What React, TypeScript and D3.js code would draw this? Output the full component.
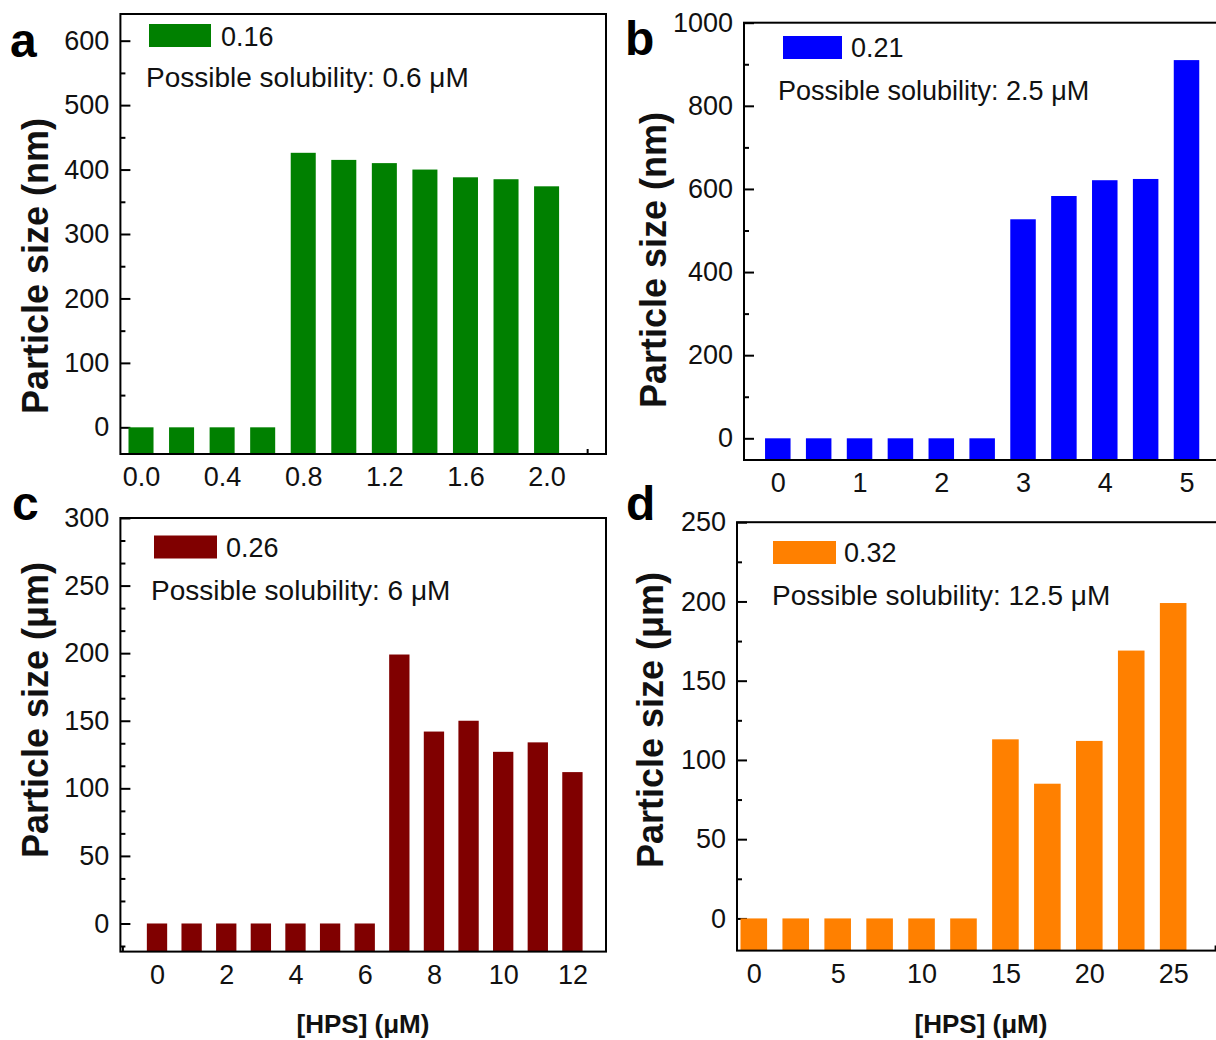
import React, { useEffect, useRef } from "react";
import * as d3 from "d3";

// [HPS] (µM) and particle size
const hpsA = [0, 0.2, 0.4, 0.6, 0.8, 1.0, 1.2, 1.4, 1.6, 1.8, 2.0];
const sizeA = [0, 0, 0, 0, 426, 415, 410, 400, 388, 385, 374];
const hpsB = [0, 0.5, 1, 1.5, 2, 2.5, 3, 3.5, 4, 4.5, 5];
const sizeB = [0, 0, 0, 0, 0, 0, 527, 583, 621, 624, 910];
const hpsC = [0, 1, 2, 3, 4, 5, 6, 7, 8, 9, 10, 11, 12];
const sizeC = [0, 0, 0, 0, 0, 0, 0, 199, 142, 150, 127, 134, 112];
const hpsD = [0, 2.5, 5, 7.5, 10, 12.5, 15, 17.5, 20, 22.5, 25];
const sizeD = [0, 0, 0, 0, 0, 0, 113, 85, 112, 169, 199];

const xTicksA = [0, 0.4, 0.8, 1.2, 1.6, 2.0];
const xTicksB = [0, 1, 2, 3, 4, 5];
const xTicksC = [0, 2, 4, 6, 8, 10, 12];
const xTicksD = [0, 5, 10, 15, 20, 25];
const yTicksA = [0, 100, 200, 300, 400, 500, 600];
const yTicksB = [0, 200, 400, 600, 800, 1000];
const yTicksC = [0, 50, 100, 150, 200, 250, 300];
const yTicksD = [0, 50, 100, 150, 200, 250];

const letters = ["a", "b", "c", "d"];
const legendLabels = ["0.16", "0.21", "0.26", "0.32"];
const solubility = ["0.6", "2.5", "6", "12.5"];
const yTitles = ["Particle size (nm)", "Particle size (nm)", "Particle size (\u03bcm)", "Particle size (\u03bcm)"];
const xTitle = "[HPS] (\u03bcM)";
const colors = ["#008000", "#0000ff", "#800000", "#ff8000"];

const FONT = "'Liberation Sans', Arial, sans-serif";

// layout of each panel in page pixels
const panels = [
  {
    hps: hpsA, size: sizeA, xTicks: xTicksA, yTicks: yTicksA, xFmt: d3.format(".1f"),
    xMinor: 0.2, xEvery: 2, yMinor: 50, yEvery: 2,
    left: 120.4, right: 606, top: 14, bottom: 454,
    xDom: [-0.1016, 2.293], yDom: [-41.4, 641.4], barFrac: 0.617,
    letterX: 10, letterY: 57,
    leg: { x: 149, y: 24, w: 62, h: 23, tx: 221, ty: 46, nx: 146, ny: 87, ns: 28 },
    yt: { x: 48, y: 266 }, xt: null,
  },
  {
    hps: hpsB, size: sizeB, xTicks: xTicksB, yTicks: yTicksB, xFmt: d3.format("d"),
    xMinor: 0.5, xEvery: 2, yMinor: 100, yEvery: 2,
    left: 744, right: 1230, top: 22.7, bottom: 460,
    xDom: [-0.4135, 5.532], yDom: [-52.2, 1000], barFrac: 0.624,
    letterX: 625, letterY: 55,
    leg: { x: 783, y: 36, w: 59, h: 23, tx: 851, ty: 57, nx: 778, ny: 100, ns: 27 },
    yt: { x: 666, y: 260 }, xt: null,
  },
  {
    hps: hpsC, size: sizeC, xTicks: xTicksC, yTicks: yTicksC, xFmt: d3.format("d"),
    xMinor: 1, xEvery: 2, yMinor: 50 / 3, yEvery: 3,
    left: 120.4, right: 606, top: 518, bottom: 951.6,
    xDom: [-1.0575, 12.97], yDom: [-20.8, 300], barFrac: 0.587,
    letterX: 12, letterY: 520,
    leg: { x: 154, y: 535.5, w: 63, h: 23, tx: 226, ty: 557, nx: 151, ny: 600, ns: 28 },
    yt: { x: 48, y: 710 }, xt: { x: 363, y: 1033 },
  },
  {
    hps: hpsD, size: sizeD, xTicks: xTicksD, yTicks: yTicksD, xFmt: d3.format("d"),
    xMinor: 2.5, xEvery: 2, yMinor: 25, yEvery: 2,
    left: 737, right: 1225, top: 522.2, bottom: 950.6,
    xDom: [-1.0014, 28.09], yDom: [-20.3, 250], barFrac: 0.634,
    letterX: 626, letterY: 520,
    leg: { x: 773, y: 541, w: 63, h: 23, tx: 844, ty: 562, nx: 772, ny: 605, ns: 28 },
    yt: { x: 663, y: 720 }, xt: { x: 981, y: 1033 },
  },
];

const minorTicks = (dom: number[], step: number, every: number) =>
  d3.range(Math.ceil(dom[0] / step - 1e-9), Math.floor(dom[1] / step + 1e-9) + 1)
    .filter((k) => k % every !== 0)
    .map((k) => k * step);

function styleAxis(sel: any) {
  sel.select(".domain").remove();
  sel.selectAll(".tick line").attr("stroke", "#000").attr("stroke-width", 2);
  sel.selectAll(".tick text").attr("fill", "#111").attr("font-size", 27).attr("font-family", FONT);
}

function drawPanel(svg: any, p: any, i: number) {
  const x = d3.scaleLinear().domain(p.xDom).range([p.left, p.right]);
  const y = d3.scaleLinear().domain(p.yDom).range([p.bottom, p.top]);
  const g = svg.append("g");

  g.append("g").attr("transform", `translate(${p.left},0)`)
    .call(d3.axisLeft(y).tickValues(minorTicks(p.yDom, p.yMinor, p.yEvery)).tickSize(-5).tickFormat(() => ""))
    .call(styleAxis);
  g.append("g").attr("transform", `translate(${p.left},0)`)
    .call(d3.axisLeft(y).tickValues(p.yTicks).tickSize(-10).tickPadding(11).tickFormat(d3.format("d")))
    .call(styleAxis);
  g.append("g").attr("transform", `translate(0,${p.bottom})`)
    .call(d3.axisBottom(x).tickValues(minorTicks(p.xDom, p.xMinor, p.xEvery)).tickSize(-5).tickFormat(() => ""))
    .call(styleAxis);
  g.append("g").attr("transform", `translate(0,${p.bottom})`)
    .call(d3.axisBottom(x).tickValues(p.xTicks).tickSize(-10).tickPadding(13).tickFormat(p.xFmt))
    .call(styleAxis);

  const bw = p.barFrac * (x(p.hps[1]) - x(p.hps[0]));
  g.selectAll("rect.bar")
    .data(p.hps.map((h: number, k: number) => ({ h, v: p.size[k] })))
    .join("rect")
    .attr("class", "bar")
    .attr("x", (d: any) => x(d.h) - bw / 2)
    .attr("y", (d: any) => y(d.v))
    .attr("width", bw)
    .attr("height", (d: any) => p.bottom - y(d.v))
    .attr("fill", colors[i]);

  g.append("rect")
    .attr("x", p.left).attr("y", p.top)
    .attr("width", p.right - p.left).attr("height", p.bottom - p.top)
    .attr("fill", "none").attr("stroke", "#000").attr("stroke-width", 2);

  // legend + note
  const L = p.leg;
  g.append("rect").attr("x", L.x).attr("y", L.y).attr("width", L.w).attr("height", L.h).attr("fill", colors[i]);
  g.append("text").attr("x", L.tx).attr("y", L.ty).attr("font-size", 27).attr("font-family", FONT)
    .attr("fill", "#111").text(legendLabels[i]);
  g.append("text").attr("x", L.nx).attr("y", L.ny).attr("font-size", L.ns).attr("font-family", FONT)
    .attr("fill", "#111").text(`Possible solubility: ${solubility[i]} \u03bcM`);

  // titles
  g.append("text")
    .attr("transform", `translate(${p.yt.x},${p.yt.y}) rotate(-90)`)
    .attr("text-anchor", "middle").attr("font-size", 36).attr("font-weight", "bold")
    .attr("font-family", FONT).attr("fill", "#111").text(yTitles[i]);
  if (p.xt) {
    g.append("text").attr("x", p.xt.x).attr("y", p.xt.y)
      .attr("text-anchor", "middle").attr("font-size", 26).attr("font-weight", "bold")
      .attr("font-family", FONT).attr("fill", "#111").text(xTitle);
  }

  g.append("text").attr("x", p.letterX).attr("y", p.letterY)
    .attr("font-size", 48).attr("font-weight", "bold").attr("font-family", FONT)
    .attr("fill", "#000").text(letters[i]);
}

export default function App() {
  const svgRef = useRef<SVGSVGElement>(null);

  useEffect(() => {
    const svg = d3.select(svgRef.current);
    svg.selectAll("*").remove();
    panels.forEach((p, i) => drawPanel(svg, p, i));
  }, []);

  return (
    <svg
      ref={svgRef}
      width={1216}
      height={1040}
      style={{ position: "absolute", left: 0, top: 0, background: "#fff", display: "block" }}
    />
  );
}
